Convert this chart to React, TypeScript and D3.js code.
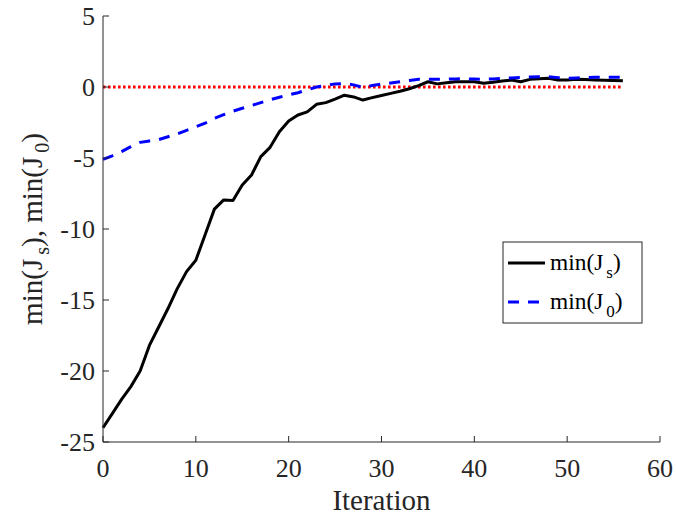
import React from "react";
import * as d3 from "d3";

const minJs = [-24, -23, -22, -21.1, -20, -18.2, -16.9, -15.6, -14.2, -13.0, -12.2, -10.4, -8.6, -7.95, -8.0, -6.9, -6.2, -4.9, -4.25, -3.15, -2.4, -1.97, -1.75, -1.22, -1.1, -0.85, -0.58, -0.7, -0.92, -0.75, -0.6, -0.45, -0.3, -0.12, 0.1, 0.37, 0.22, 0.3, 0.37, 0.37, 0.37, 0.26, 0.33, 0.42, 0.49, 0.37, 0.54, 0.58, 0.61, 0.5, 0.49, 0.54, 0.52, 0.5, 0.48, 0.46, 0.44];
const minJ0 = [-5.1, -4.85, -4.55, -4.2, -3.9, -3.8, -3.7, -3.5, -3.3, -3.05, -2.8, -2.55, -2.2, -1.95, -1.7, -1.5, -1.3, -1.1, -0.9, -0.72, -0.55, -0.4, -0.2, 0.0, 0.1, 0.22, 0.24, 0.15, -0.03, 0.1, 0.2, 0.28, 0.37, 0.45, 0.54, 0.55, 0.54, 0.55, 0.57, 0.58, 0.56, 0.54, 0.57, 0.6, 0.64, 0.67, 0.7, 0.72, 0.72, 0.66, 0.62, 0.64, 0.67, 0.68, 0.68, 0.68, 0.68];
const zeroLine = [0, 0];
const zeroLineX = [0, 56];
const xTicks = [0, 10, 20, 30, 40, 50, 60];
const yTicks = [5, 0, -5, -10, -15, -20, -25];

const W = 676, H = 519;
const L = 103, R = 660, T = 16, B = 442;
const FONT = "'Liberation Serif', 'Times New Roman', serif";
const AX = "#262626";

export default function App() {
  const x = d3.scaleLinear().domain([0, 60]).range([L, R]);
  const y = d3.scaleLinear().domain([-25, 5]).range([B, T]);
  const line = d3.line<number>().x((_, i) => x(i)).y((d) => y(d));
  const zl = d3.line<number>().x((_, i) => x(zeroLineX[i])).y((d) => y(d));

  return (
    <svg width={W} height={H} style={{ position: "absolute", left: 0, top: 0, background: "#fff" }} fontFamily={FONT}>
      <rect width={W} height={H} fill="#fff" />
      {/* zero line */}
      <path d={zl(zeroLine) || ""} fill="none" stroke="#ff0000" strokeWidth={3} strokeDasharray="2.6,2.4" />
      <path d={line(minJs) || ""} fill="none" stroke="#000" strokeWidth={3} strokeLinejoin="round" />
      <path d={line(minJ0) || ""} fill="none" stroke="#0000ff" strokeWidth={3} strokeDasharray="11,9" />
      {/* axes */}
      <line x1={L} x2={L} y1={T} y2={B} stroke={AX} strokeWidth={1} />
      <line x1={L} x2={R} y1={B} y2={B} stroke={AX} strokeWidth={1} />
      {xTicks.map((t) => (
        <g key={"x" + t}>
          <line x1={x(t)} x2={x(t)} y1={B} y2={B - 6} stroke={AX} />
          <text x={x(t)} y={477} textAnchor="middle" fontSize={26} fill={AX}>{t}</text>
        </g>
      ))}
      {yTicks.map((t) => (
        <g key={"y" + t}>
          <line x1={L} x2={L + 6} y1={y(t)} y2={y(t)} stroke={AX} />
          <text x={95} y={y(t) + 9} textAnchor="end" fontSize={26} fill={AX}>{t}</text>
        </g>
      ))}
      <text x={(L + R) / 2} y={510} textAnchor="middle" fontSize={29} fill={AX}>Iteration</text>
      <text transform={`translate(42,${(T + B) / 2}) rotate(-90)`} textAnchor="middle" fontSize={29} fill={AX}>
        <tspan>min(J</tspan>
        <tspan dy={7} fontSize={20} dx={4}>s</tspan>
        <tspan dy={-7}>), min(J</tspan>
        <tspan dy={7} fontSize={20} dx={4}>0</tspan>
        <tspan dy={-7}>)</tspan>
      </text>
      {/* legend */}
      <rect x={503} y={242} width={139} height={81} fill="#fff" stroke={AX} strokeWidth={1} />
      <line x1={508} x2={545} y1={263} y2={263} stroke="#000" strokeWidth={3} />
      <line x1={508} x2={545} y1={302} y2={302} stroke="#0000ff" strokeWidth={3} strokeDasharray="11,9" />
      <text x={550} y={270} fontSize={23.4} fill="#000">
        <tspan>min(J</tspan>
        <tspan dy={8} fontSize={17} dx={3}>s</tspan>
        <tspan dy={-8}>)</tspan>
      </text>
      <text x={550} y={309} fontSize={23.4} fill="#000">
        <tspan>min(J</tspan>
        <tspan dy={8} fontSize={17} dx={3}>0</tspan>
        <tspan dy={-8}>)</tspan>
      </text>
    </svg>
  );
}
